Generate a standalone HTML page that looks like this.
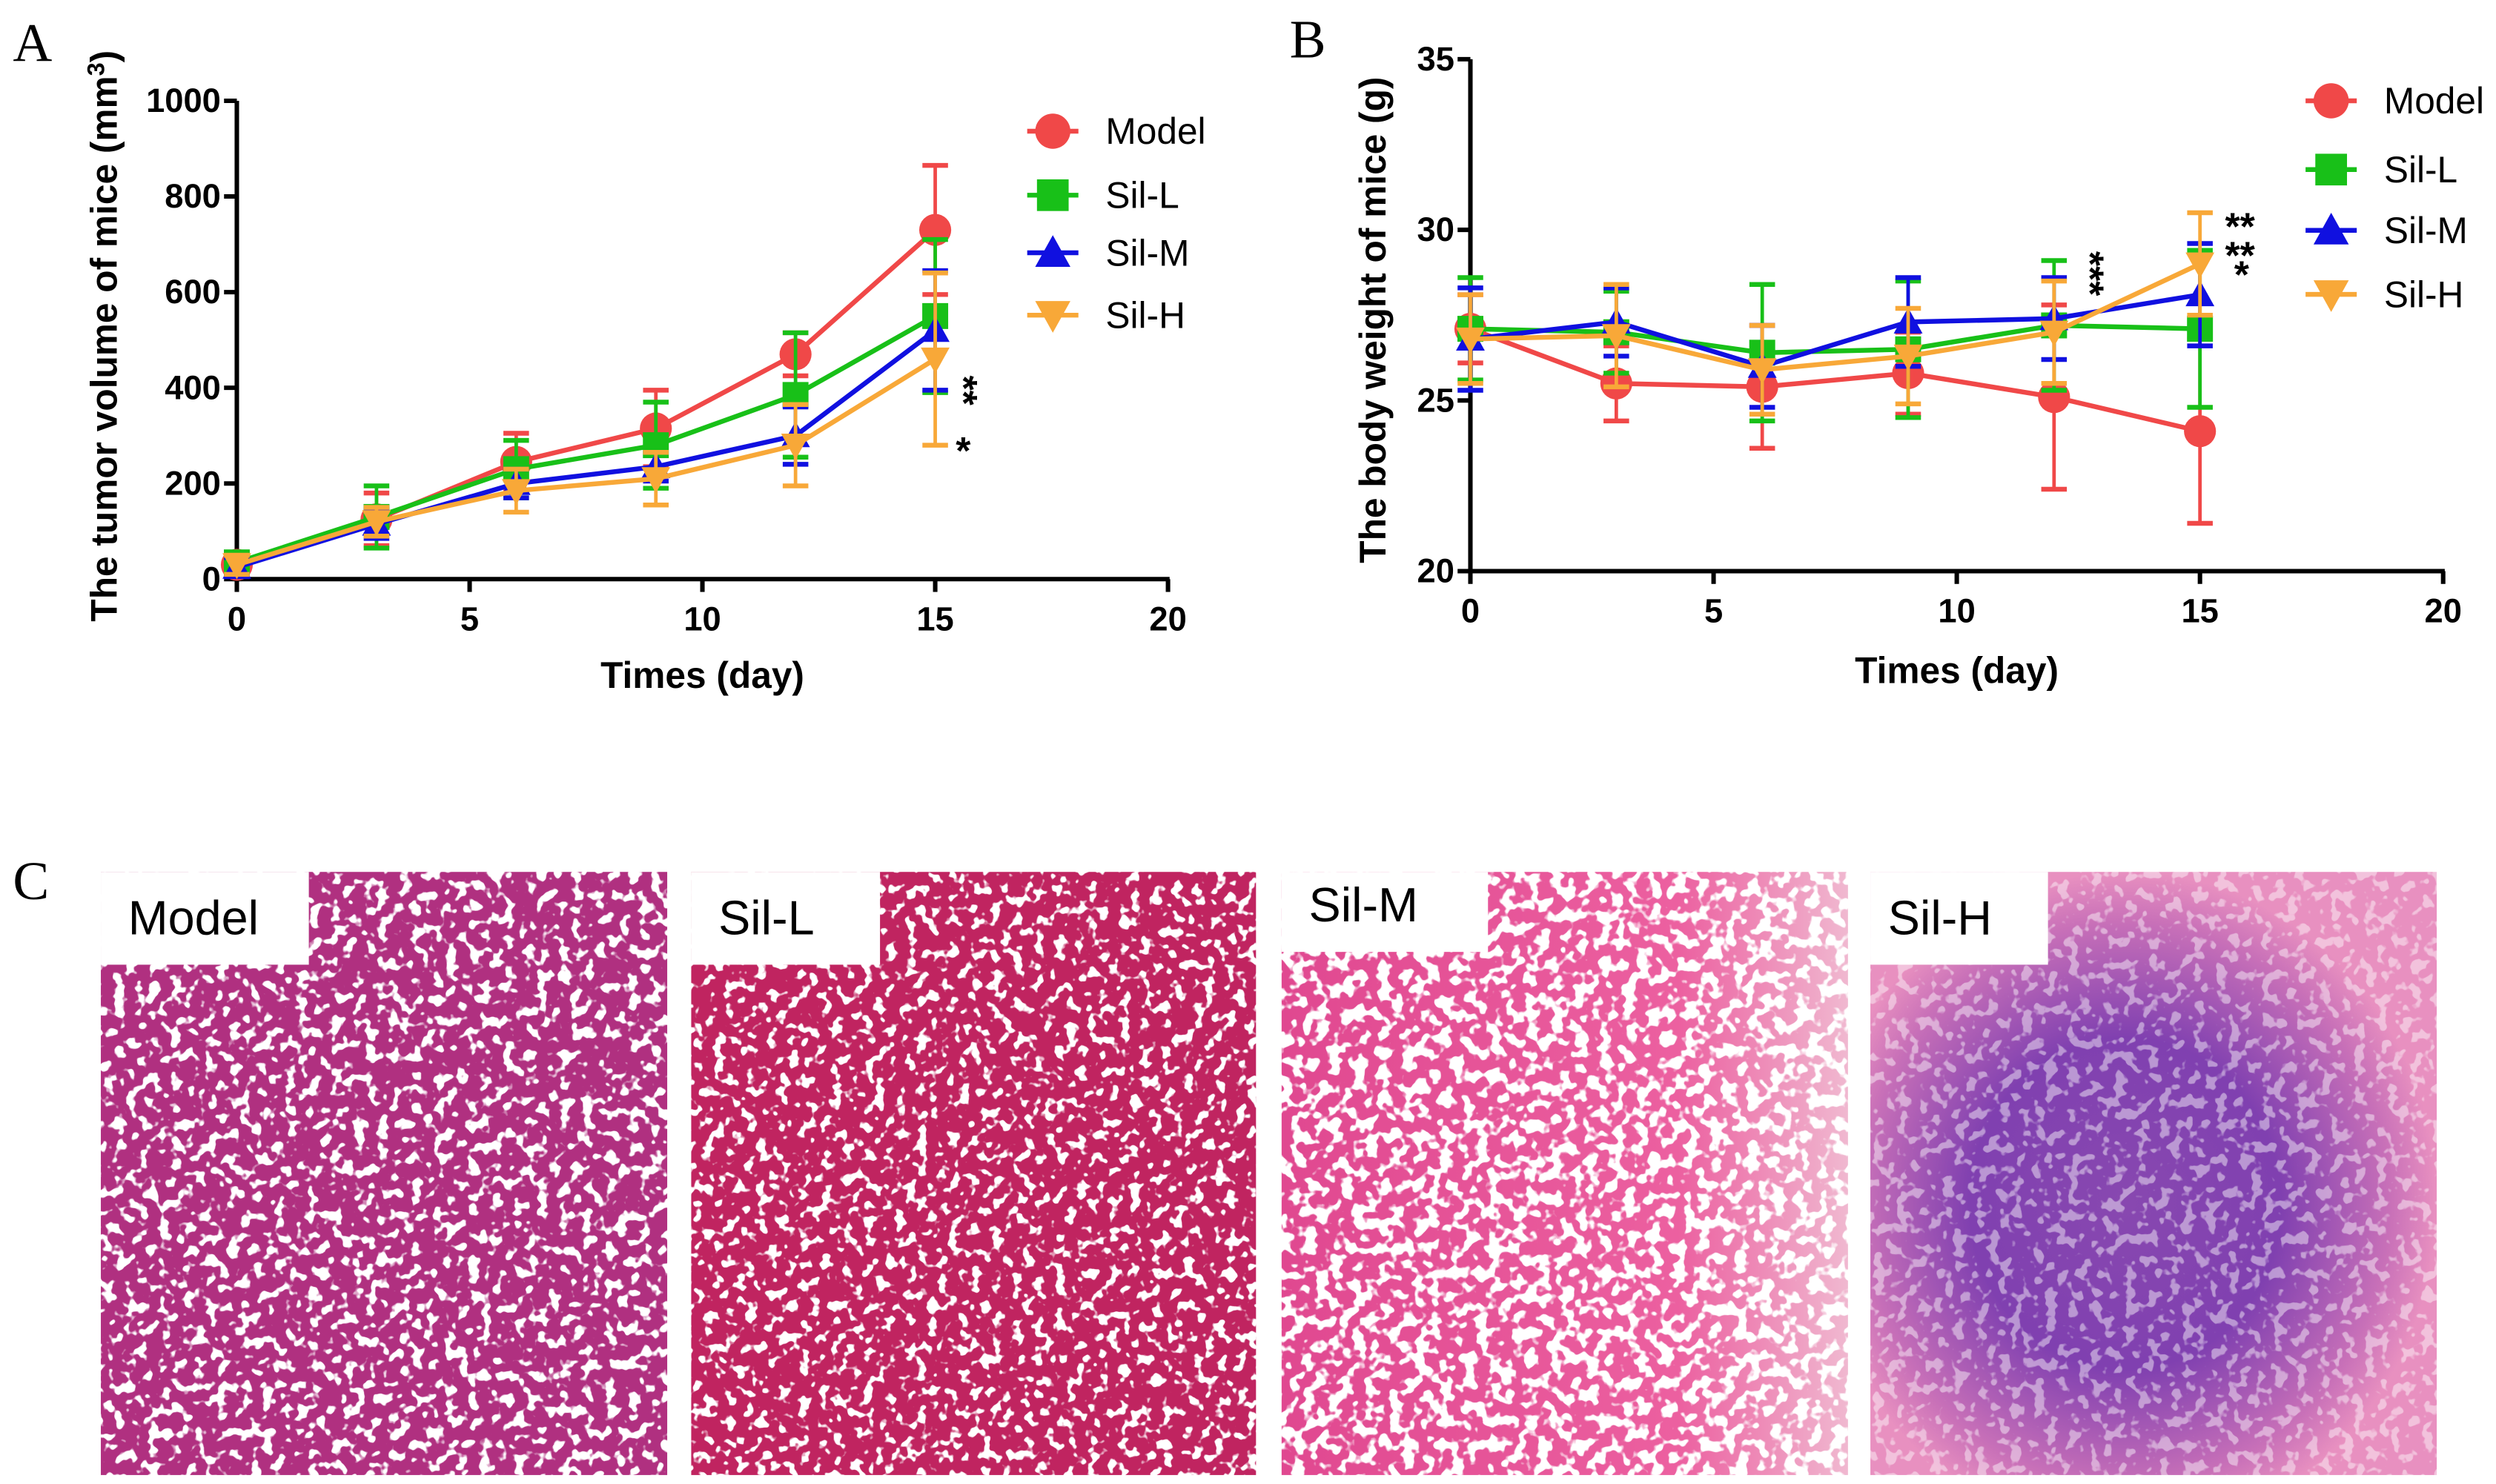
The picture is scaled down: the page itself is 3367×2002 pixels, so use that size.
<!DOCTYPE html>
<html><head><meta charset="utf-8">
<style>
html,body{margin:0;padding:0;background:#fff;}
svg{display:block;font-family:"Liberation Sans",sans-serif;}
</style></head>
<body>
<svg id="fig" width="3367" height="2002" viewBox="0 0 1560 927.6" xmlns="http://www.w3.org/2000/svg">
<defs>
<filter id="holes" x="0" y="0" width="1" height="1">
<feTurbulence type="fractalNoise" baseFrequency="0.14" numOctaves="2" seed="4"/>
<feColorMatrix type="matrix" values="0 0 0 0 1  0 0 0 0 1  0 0 0 0 1  -14 0 0 0 6.4"/>
</filter>
<filter id="holes2" x="0" y="0" width="1" height="1">
<feTurbulence type="fractalNoise" baseFrequency="0.15" numOctaves="2" seed="9"/>
<feColorMatrix type="matrix" values="0 0 0 0 1  0 0 0 0 1  0 0 0 0 1  -14 0 0 0 6.2"/>
</filter>
<filter id="holes3" x="0" y="0" width="1" height="1">
<feTurbulence type="fractalNoise" baseFrequency="0.13" numOctaves="2" seed="2"/>
<feColorMatrix type="matrix" values="0 0 0 0 1  0 0 0 0 1  0 0 0 0 1  -14 0 0 0 7.0"/>
</filter>
<radialGradient id="gH" cx="0.45" cy="0.55" r="0.55">
<stop offset="0" stop-color="#8848b0"/><stop offset="0.5" stop-color="#8040b0"/><stop offset="0.85" stop-color="#c870b8"/><stop offset="1" stop-color="#e890c0"/>
</radialGradient>
<linearGradient id="gM" x1="0" y1="0" x2="1" y2="0">
<stop offset="0" stop-color="#e04890"/><stop offset="0.7" stop-color="#ec60a0"/><stop offset="1" stop-color="#f0b8d0"/>
</linearGradient>
</defs>

<text x="8" y="38" font-family="Liberation Serif,serif" font-size="34">A</text>
<text x="806" y="36" font-family="Liberation Serif,serif" font-size="34">B</text>
<text x="8" y="562" font-family="Liberation Serif,serif" font-size="34">C</text>

<g id="chartA"></g>
<g id="chartB"></g>

<g>
<g>
<rect x="63" y="545" width="354" height="377" fill="#b03080"/>
<rect x="63" y="545" width="354" height="377" filter="url(#holes)"/>
<rect x="63" y="545" width="130" height="58" fill="#fff"/>
<text x="80" y="584" font-size="30">Model</text>
</g>
<g>
<rect x="432" y="545" width="353" height="377" fill="#c02460"/>
<rect x="432" y="545" width="353" height="377" filter="url(#holes2)"/>
<rect x="432" y="545" width="118" height="58" fill="#fff"/>
<text x="449" y="584" font-size="30">Sil-L</text>
</g>
<g>
<rect x="801" y="545" width="354" height="377" fill="url(#gM)"/>
<rect x="801" y="545" width="354" height="377" filter="url(#holes3)"/>
<rect x="801" y="545" width="129" height="50" fill="#fff"/>
<text x="818" y="576" font-size="30">Sil-M</text>
</g>
<g>
<rect x="1169" y="545" width="354" height="377" fill="url(#gH)"/>
<rect x="1169" y="545" width="354" height="377" filter="url(#holes)" opacity="0.45"/>
<rect x="1169" y="545" width="111" height="58" fill="#fff"/>
<text x="1180" y="584" font-size="30">Sil-H</text>
</g>
</g>
</svg>
<script>
const days = [0, 3, 6, 9, 12, 15];
const seriesNames = ["Model", "Sil-L", "Sil-M", "Sil-H"];
const colors = ["#f04848", "#18c018", "#1010e0", "#f8a838"];
const markers = ["circle", "square", "triangle", "tri-down"];
const volModel = [30, 125, 245, 315, 470, 730];
const volSilL = [35, 130, 230, 280, 385, 550];
const volSilM = [25, 115, 200, 235, 300, 520];
const volSilH = [30, 120, 185, 210, 280, 460];
const volErrModel = [20, 55, 60, 80, 45, 135];
const volErrSilL = [20, 65, 60, 90, 130, 160];
const volErrSilM = [20, 30, 30, 30, 60, 125];
const volErrSilH = [20, 30, 45, 55, 85, 180];
const wtModel = [27.1, 25.5, 25.4, 25.8, 25.1, 24.1];
const wtSilL = [27.1, 27.0, 26.4, 26.5, 27.2, 27.1];
const wtSilM = [26.8, 27.3, 26.0, 27.3, 27.4, 28.1];
const wtSilH = [26.8, 26.9, 25.9, 26.3, 27.0, 29.0];
const wtErrModel = [1.0, 1.1, 1.8, 1.2, 2.7, 2.7];
const wtErrSilL = [1.5, 1.2, 2.0, 2.0, 1.9, 2.3];
const wtErrSilM = [1.5, 1.0, 1.2, 1.3, 1.2, 1.5];
const wtErrSilH = [1.3, 1.5, 1.3, 1.4, 1.5, 1.5];
const xTicks = [0, 5, 10, 15, 20];
const yTicksA = [0, 200, 400, 600, 800, 1000];
const yTicksB = [20, 25, 30, 35];

const NS = "http://www.w3.org/2000/svg";
function mk(parent, tag, attrs, text) {
  const e = document.createElementNS(NS, tag);
  for (const k in attrs) e.setAttribute(k, attrs[k]);
  if (text !== undefined) e.textContent = text;
  parent.appendChild(e);
  return e;
}
function marker(g, type, x, y, c, r) {
  let e;
  if (type === "circle") e = mk(g, "circle", {cx: x, cy: y, r: r, fill: c});
  else if (type === "square") e = mk(g, "rect", {x: x - r * 0.9, y: y - r * 0.9, width: r * 1.8, height: r * 1.8, fill: c});
  else if (type === "triangle") e = mk(g, "polygon", {points: `${x},${y - r} ${x - r},${y + r * 0.8} ${x + r},${y + r * 0.8}`, fill: c});
  else e = mk(g, "polygon", {points: `${x},${y + r} ${x - r},${y - r * 0.8} ${x + r},${y - r * 0.8}`, fill: c});
  return e;
}

function drawChart(gid, cfg) {
  const g = document.getElementById(gid);
  const x = d => cfg.x0 + (d - 0) * (cfg.x1 - cfg.x0) / 20;
  const y = v => cfg.y0 - (v - cfg.vmin) * (cfg.y0 - cfg.y1) / (cfg.vmax - cfg.vmin);
  const ax = mk(g, "line", {x1: cfg.x0, y1: cfg.y0, x2: cfg.x1 + 1, y2: cfg.y0, stroke: "#000", "stroke-width": 2.8});
  
  
  const ay = mk(g, "line", {x1: cfg.x0, y1: cfg.y0 + 1, x2: cfg.x0, y2: cfg.y1, stroke: "#000", "stroke-width": 2.8});
  
  
  xTicks.forEach(t => {
    mk(g, "line", {x1: x(t), y1: cfg.y0, x2: x(t), y2: cfg.y0 + 8, stroke: "#000", "stroke-width": 2.8});
    const tl = mk(g, "text", {x: x(t), y: cfg.y0 + 32, "font-size": 21, "font-weight": "bold", "text-anchor": "middle"}, t);
    
    
  });
  cfg.yTicks.forEach(t => {
    mk(g, "line", {x1: cfg.x0 - 8, y1: y(t), x2: cfg.x0, y2: y(t), stroke: "#000", "stroke-width": 2.8});
    const tl = mk(g, "text", {x: cfg.x0 - 10, y: y(t) + 7, "font-size": 21, "font-weight": "bold", "text-anchor": "end"}, t);
    
    
  });
  const xt = mk(g, "text", {x: (cfg.x0 + cfg.x1) / 2, y: cfg.xTitleY, "font-size": 23, "font-weight": "bold", "text-anchor": "middle"}, "Times (day)");
  
  
  const yt = mk(g, "text", {x: 0, y: 0, "font-size": 23, "font-weight": "bold", "text-anchor": "middle", transform: `translate(${cfg.yTitleX},${cfg.yTitleY}) rotate(-90)`});
  yt.innerHTML = cfg.yTitle;
  
  
  cfg.series.forEach((vals, i) => {
    const s = mk(g, "g", {});
    
    
    const c = colors[i], errs = cfg.errs[i];
    days.forEach((d, j) => {
      const up = y(vals[j] + errs[j]), dn = y(vals[j] - errs[j]);
      mk(s, "line", {x1: x(d), y1: up, x2: x(d), y2: dn, stroke: c, "stroke-width": 2.2});
      mk(s, "line", {x1: x(d) - 8, y1: up, x2: x(d) + 8, y2: up, stroke: c, "stroke-width": 3});
      mk(s, "line", {x1: x(d) - 8, y1: dn, x2: x(d) + 8, y2: dn, stroke: c, "stroke-width": 3});
    });
    mk(s, "polyline", {points: days.map((d, j) => x(d) + "," + y(vals[j])).join(" "), fill: "none", stroke: c, "stroke-width": 3});
    days.forEach((d, j) => {
      const m = marker(s, markers[i], x(d), y(vals[j]), c, i === 0 ? 10 : 9);
      
      
    });
  });
  seriesNames.forEach((n, i) => {
    const ly = cfg.legY[i];
    const lg = mk(g, "g", {});
    
    
    mk(lg, "line", {x1: cfg.legX - 16, y1: ly, x2: cfg.legX + 16, y2: ly, stroke: colors[i], "stroke-width": 3});
    marker(lg, markers[i], cfg.legX, ly, colors[i], 11);
    mk(lg, "text", {x: cfg.legX + 33, y: ly + 8, "font-size": 23}, n);
  });
  cfg.stars.forEach(s => {
    const st = mk(g, "text", {x: s[0], y: s[1], "font-size": 24, "font-weight": "bold", "text-anchor": "middle", transform: s[2] ? `rotate(90 ${s[0]} ${s[1]})` : ""}, s[3]);
    
    
  });
}

drawChart("chartA", {
  x0: 148, x1: 730, y0: 362, y1: 63, vmin: 0, vmax: 1000, yTicks: yTicksA,
  series: [volModel, volSilL, volSilM, volSilH],
  errs: [volErrModel, volErrSilL, volErrSilM, volErrSilH],
  xTitleY: 430, yTitleX: 73, yTitleY: 210,
  yTitle: 'The tumor volume of mice (mm<tspan dy="-8" font-size="15">3</tspan><tspan dy="8">)</tspan>',
  legX: 658, legY: [82, 122, 158, 197],
  stars: [[594, 244, true, "**"], [602, 290, false, "*"]]
});
drawChart("chartB", {
  x0: 919, x1: 1527, y0: 357, y1: 37, vmin: 20, vmax: 35, yTicks: yTicksB,
  series: [wtModel, wtSilL, wtSilM, wtSilH],
  errs: [wtErrModel, wtErrSilL, wtErrSilM, wtErrSilH],
  xTitleY: 427, yTitleX: 866, yTitleY: 200,
  yTitle: 'The body weight of mice (g)',
  legX: 1457, legY: [63, 106, 144, 184],
  stars: [[1298, 171, true, "***"], [1400, 150, false, "**"], [1400, 168, false, "**"], [1401, 180, false, "*"]]
});
</script>
</body></html>
